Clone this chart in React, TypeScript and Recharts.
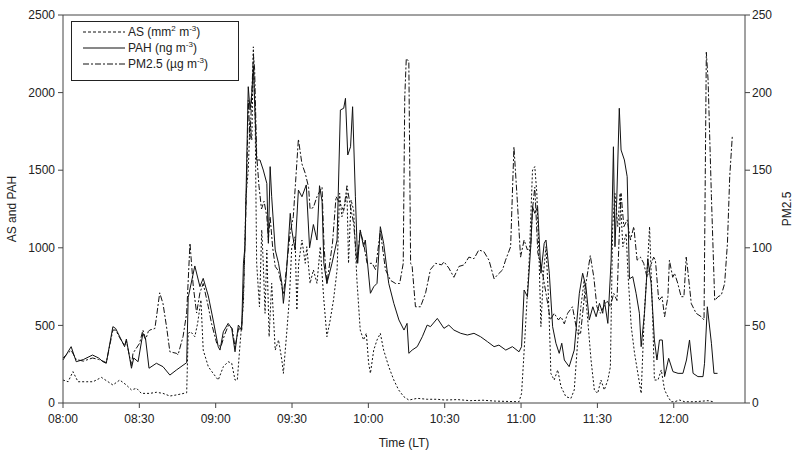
import { LineChart, Line, XAxis, YAxis, ReferenceLine, Legend } from 'recharts';

// x values are minutes after 08:00 (local time)
const TIME_TICKS = [0, 30, 60, 90, 120, 150, 180, 210, 240];
const LEFT_TICKS = [0, 500, 1000, 1500, 2000, 2500];
const RIGHT_TICKS = [0, 50, 100, 150, 200, 250];

// AS (mm2 m-3), left axis
const AS: [number, number][] = [
  [0, 148], [2, 137], [3.9, 202], [5.9, 137], [9.2, 137], [11.8, 137], [15.1, 165], [17.7, 137],
  [19.6, 116], [22.3, 148], [24.9, 116], [26.9, 84], [28.9, 95], [30.8, 62], [34.1, 62], [36.7, 69],
  [39.3, 62], [42, 45], [44.6, 52], [48.6, 66], [49.2, 449], [50.2, 459], [51.8, 427], [52.9, 513],
  [54.2, 664], [55.1, 341], [57.1, 234], [59, 191], [61, 148], [63, 234], [64.9, 266], [66.3, 256],
  [67.6, 148], [68.5, 148], [69.6, 385], [70.9, 642], [71.9, 1329], [72.8, 1501], [73.5, 1823],
  [74.2, 1694], [74.8, 2295], [75.5, 1845], [76.1, 900], [77.2, 620], [78.1, 1115], [78.7, 900],
  [79.4, 578], [80.1, 986], [81, 427], [82, 771], [83.4, 341], [84.7, 406], [86, 277], [86.6, 191],
  [88, 470], [89, 685], [89.9, 1007], [91.2, 1071], [91.9, 599], [92.6, 900], [93.9, 1050], [95.2, 900],
  [95.8, 1007], [97.1, 771], [98.4, 857], [99.8, 771], [101.1, 1007], [102.4, 685], [103.7, 427],
  [105, 535], [106.3, 664], [107.7, 857], [108.7, 1351], [109.6, 1200], [110.9, 1286], [111.6, 1351],
  [112.2, 900], [113.2, 1308], [114.2, 1243], [115.5, 792], [116.8, 470], [118.1, 406], [119.2, 449],
  [120.1, 256], [120.8, 191], [122.1, 341], [123.4, 406], [124.7, 449], [126, 341], [128, 234],
  [130, 148], [131.9, 84], [133.9, 41], [135.9, 19], [139.2, 30], [143.1, 24], [147.1, 24], [150, 19],
  [155, 22], [160, 15], [165, 18], [170, 12], [175, 10], [179.2, 8], [180.2, 62], [181, 277],
  [181.9, 535], [183.2, 921], [184.5, 1501], [185.4, 1523], [186.2, 1351], [187.1, 921], [187.8, 492],
  [188.8, 836], [189.8, 1007], [190.7, 707], [191.5, 320], [191.7, 191], [193, 148], [194.4, 213],
  [195.7, 105], [197.6, 41], [199.6, 30], [200.9, 84], [202.2, 385], [203.5, 620], [204.8, 792],
  [206.2, 535], [207.5, 277], [208.8, 84], [210.1, 62], [211.4, 148], [212.7, 84], [214.1, 148],
  [215.1, 234], [216, 1136], [216.9, 1351], [218, 1136], [218.9, 1351], [220, 1007], [221.3, 1093],
  [222, 836], [223.3, 492], [224.6, 320], [225.9, 191], [227.2, 62], [228.5, 599], [229.8, 921],
  [230.5, 1136], [231.8, 513], [232.4, 148], [233.8, 148], [235.1, 213], [236.4, 84], [237.7, 41],
  [239, 8], [240.3, 8], [242.3, 19], [244.3, 8], [248.2, 8], [253.5, 15], [255.5, 8],
];

// PAH (ng m-3), left axis
const PAH: [number, number][] = [
  [0, 277], [3.2, 363], [5.2, 266], [8, 280], [11.6, 309], [14, 290], [15.7, 266], [17, 256],
  [19.6, 492], [20.7, 480], [22.3, 427], [24.2, 363], [24.9, 412], [26.9, 224], [27.8, 290], [29.5, 266],
  [31.4, 449], [32.5, 406], [33.8, 224], [36.7, 256], [39.3, 234], [42, 180], [44.6, 213], [48.6, 260],
  [49.2, 680], [51.8, 883], [53.8, 750], [55.1, 803], [57.1, 690], [59, 535], [61, 363], [61.7, 341],
  [63, 459], [64.9, 513], [66.3, 481], [67.6, 330], [68.9, 502], [70.2, 470], [70.9, 900], [71.5, 1007],
  [72.8, 2038], [73.5, 1888], [74.2, 1995], [74.8, 2167], [76.1, 1566], [77.4, 1566], [78.7, 1501],
  [80.1, 1415], [80.7, 1029], [81.4, 1523], [82, 1329], [83.4, 986], [84.7, 900], [86, 771], [86.6, 642],
  [87.7, 814], [89.3, 1222], [89.9, 1115], [91.2, 986], [92.5, 1372], [93.9, 1329], [95.6, 1405],
  [96.9, 1000], [98.4, 1150], [99.8, 1050], [100.8, 1400], [101.8, 1300], [102.5, 900], [103.7, 771],
  [105.7, 900], [107.7, 1050], [109, 1888], [110.3, 1899], [111, 1963], [111.9, 1598], [113, 1651],
  [113.8, 1909], [114.9, 1329], [115.8, 900], [116.8, 1115], [118.1, 1007], [118.8, 1050], [120.8, 707],
  [122.1, 749], [123.4, 771], [124.7, 1136], [126, 1029], [128, 771], [130, 642], [132, 535], [134, 470],
  [135.2, 513], [135.9, 320], [137.2, 341], [139.2, 363], [141.2, 427], [143.1, 502], [144.4, 492],
  [147.1, 545], [149.7, 481], [151.6, 502], [153.6, 470], [156.3, 449], [158.9, 438], [161.5, 449],
  [164.1, 427], [166.8, 395], [169.4, 363], [171.3, 373], [174, 341], [176.6, 363], [179.2, 330],
  [180.2, 363], [181.2, 728], [182.5, 685], [183.8, 1007], [184.5, 1265], [185.4, 1222], [186.5, 1265],
  [187.8, 836], [189.1, 1029], [189.8, 1050], [191.1, 836], [192.4, 492], [193.7, 385], [195, 320],
  [196, 385], [197, 277], [198.9, 234], [200.9, 341], [202.9, 707], [204.2, 836], [205.5, 749],
  [206.8, 535], [208.2, 620], [209.5, 556], [210.8, 642], [212.1, 578], [212.7, 664], [214.1, 513],
  [215.4, 921], [216.3, 1651], [216.9, 1007], [217.6, 1308], [218.6, 1899], [219.3, 1630], [220.6, 1566],
  [221.7, 1458], [222.6, 800], [223.9, 814], [225.2, 707], [226.5, 578], [227.2, 363], [228.5, 578],
  [229.8, 930], [231.1, 771], [232.4, 406], [233.4, 277], [234.4, 406], [235.5, 406], [236.4, 170],
  [238, 288], [239.7, 202], [241.7, 191], [243.6, 191], [245, 277], [246.2, 406], [247.6, 191],
  [249.5, 170], [251.5, 170], [252.1, 256], [253.2, 620], [254.8, 385], [255.8, 191], [257.2, 191],
];

// PM2.5 (ug m-3), right axis
const PM25: [number, number][] = [
  [0, 29], [3.2, 34], [5.2, 28], [8, 27], [11.6, 29], [14, 28], [15.7, 27], [17, 26], [19.6, 47],
  [20.7, 47], [22.3, 42], [24.2, 37], [24.9, 40], [26.9, 24], [27.5, 32], [30.1, 38.5], [31.4, 47],
  [32.5, 41], [33.5, 46], [34.1, 47], [36.1, 48], [36.7, 55], [38, 71], [39.3, 64], [40.7, 49], [42, 33],
  [44.6, 32], [45.2, 31], [47.2, 43], [48.6, 58], [49.9, 103], [50.5, 90], [51.2, 75], [52.5, 58],
  [53.8, 71], [55.1, 77], [57.1, 62], [58.4, 51], [60.4, 38.5], [62, 36], [63.5, 44], [65, 50],
  [66.5, 48], [67.6, 36], [69, 48], [70.2, 47], [70.9, 70], [71.5, 100], [72.3, 150], [72.8, 195],
  [73.5, 170], [74.2, 200], [74.8, 225], [75.3, 215], [76.1, 160], [77, 140], [78, 125], [79, 130],
  [80.1, 120], [80.7, 105], [81.4, 120], [82.4, 100], [83.4, 88], [84.7, 85], [86, 75], [86.6, 70],
  [87.7, 85], [89.3, 110], [90.5, 120], [91.5, 145], [92.5, 170], [93.9, 154], [95.2, 148], [96.5, 139],
  [97.1, 125], [98.4, 126], [99.8, 133], [101.1, 137], [101.8, 139], [102.6, 100], [103.7, 77],
  [105.9, 103], [107.3, 133], [110.3, 124], [111.6, 140], [113, 126], [114.2, 116], [115.5, 90],
  [116.8, 111], [118.1, 103], [119.5, 90], [121.5, 90], [122.8, 86], [124.7, 111], [126.7, 86],
  [128.7, 79], [130.7, 77], [132.3, 77], [133.7, 90], [134.3, 197], [134.9, 222], [135.9, 220],
  [136.6, 90], [137.2, 88], [138.5, 62], [140.5, 62], [142.5, 71], [144.4, 86], [146.4, 90], [148.8, 89],
  [149.7, 91], [151.6, 87], [153.6, 81], [155.6, 88], [157.6, 89], [159.5, 94], [161.5, 93], [163.4, 98.6],
  [165.4, 97.5], [167.4, 92], [169.4, 80], [170.7, 82.5], [172.7, 85.7], [173.9, 92], [175.9, 100.7],
  [177.2, 165], [178.5, 131], [179.8, 94], [181.2, 105], [182.5, 98.6], [183.8, 100.7], [184.5, 125],
  [185.4, 139], [186.6, 96.5], [188, 87.8], [189.8, 70.7], [191.5, 53.5], [193, 57.8], [194.7, 53.5],
  [195.7, 55.6], [197, 51], [198.3, 57.8], [200.2, 62], [202.1, 45], [203.4, 45], [205.3, 75], [207.2, 95],
  [208.6, 81], [209.8, 62], [211.2, 57.8], [212.5, 62], [213.8, 66], [215.1, 62], [216.4, 70.7],
  [217.7, 66], [218.4, 100.7], [219.3, 135], [220.4, 113.6], [221.7, 118], [223, 105], [224.3, 113.6],
  [225.6, 92], [226.9, 94], [228.2, 90], [229.5, 81], [230.8, 88], [232.1, 94], [232.8, 92], [234.1, 66],
  [235.4, 68.5], [236.4, 55.6], [237.7, 68.5], [238.3, 92], [239.6, 81], [240.3, 83.6], [241.6, 77],
  [242.9, 68.5], [244, 68.5], [244.9, 94], [245.5, 85.7], [246.9, 64], [248.8, 57.8], [250.8, 55.6],
  [251.9, 53.5], [252.8, 226], [253.5, 208], [254.8, 133], [256.1, 66], [257.4, 68.5], [258.7, 69.6],
  [260, 77], [261.1, 103], [262, 146], [263, 171.6],
];

const rows = (s: [number, number][]) => s.map(([t, v]) => ({ t, v }));

const fmtTime = (m: number) => {
  const h = 8 + Math.floor(m / 60);
  const mm = m % 60;
  return `${String(h).padStart(2, '0')}:${String(mm).padStart(2, '0')}`;
};

const INK = '#111';
const AXIS = '#444';
const FONT = 'Liberation Sans, Arial, sans-serif';
const tickStyle = { fill: '#222', fontSize: 12, fontFamily: FONT };

function LegendBox() {
  const items = [
    { dash: '3 2', label: ['AS (mm', '2', ' m', '-3', ')'] },
    { dash: undefined, label: ['PAH (ng m', '-3', ')'] },
    { dash: '6 2 2 2', label: ['PM2.5 (\u00b5g m', '-3', ')'] },
  ];
  return (
    <svg width={169} height={61} style={{ display: 'block' }}>
      <rect x={0.5} y={0.5} width={167} height={59} fill="#fff" stroke="#222" strokeWidth={1} />
      {items.map((it, i) => {
        const y = 11 + i * 16;
        return (
          <g key={i}>
            <line x1={12} x2={54} y1={y} y2={y} stroke={INK} strokeWidth={1} strokeDasharray={it.dash} />
            <text x={57} y={y + 4} fontSize={12} fontFamily={FONT} fill="#222">
              {it.label.map((part, j) =>
                j % 2 === 1 ? (
                  <tspan key={j} fontSize={8} dy={-5}>{part}</tspan>
                ) : (
                  <tspan key={j} dy={j === 0 ? 0 : 5}>{part}</tspan>
                )
              )}
            </text>
          </g>
        );
      })}
    </svg>
  );
}

export default function App() {
  return (
    <div style={{ position: 'absolute', left: 0, top: 0, background: '#fff' }}>
      <LineChart width={800} height={453} margin={{ top: 15, right: 0, bottom: 0, left: 8 }}>
        <XAxis
          dataKey="t"
          type="number"
          domain={[0, 268]}
          ticks={TIME_TICKS}
          tickFormatter={fmtTime}
          height={50}
          tick={tickStyle}
          tickSize={5}
          tickMargin={6}
          stroke={AXIS}
          allowDuplicatedCategory={false}
          label={{ value: 'Time (LT)', position: 'insideBottom', offset: 6, style: { fill: '#222', fontSize: 12, fontFamily: FONT } }}
        />
        <YAxis
          yAxisId="left"
          domain={[0, 2500]}
          ticks={LEFT_TICKS}
          width={55}
          tick={tickStyle}
          tickSize={5}
          tickMargin={3}
          stroke={AXIS}
          label={{ value: 'AS and PAH', angle: -90, position: 'insideLeft', offset: 4, style: { textAnchor: 'middle', fill: '#222', fontSize: 12, fontFamily: FONT } }}
        />
        <YAxis
          yAxisId="right"
          orientation="right"
          domain={[0, 250]}
          ticks={RIGHT_TICKS}
          width={55}
          tick={tickStyle}
          tickSize={5}
          tickMargin={2}
          stroke={AXIS}
          label={{ value: 'PM2.5', angle: -90, position: 'insideRight', offset: 13, style: { textAnchor: 'middle', fill: '#222', fontSize: 12, fontFamily: FONT } }}
        />
        <ReferenceLine yAxisId="left" y={2500} stroke={AXIS} strokeWidth={1} />
        <Line data={rows(AS)} dataKey="v" yAxisId="left" name="AS" stroke={INK} strokeWidth={1} strokeDasharray="2 2" dot={false} isAnimationActive={false} />
        <Line data={rows(PAH)} dataKey="v" yAxisId="left" name="PAH" stroke={INK} strokeWidth={1} dot={false} isAnimationActive={false} />
        <Line data={rows(PM25)} dataKey="v" yAxisId="right" name="PM2.5" stroke={INK} strokeWidth={1} strokeDasharray="6 2 2 2" dot={false} isAnimationActive={false} />
        <Legend
          layout="vertical"
          align="center"
          verticalAlign="middle"
          wrapperStyle={{ left: 71, top: 21, width: 169, height: 61 }}
          content={() => <LegendBox />}
        />
      </LineChart>
    </div>
  );
}
